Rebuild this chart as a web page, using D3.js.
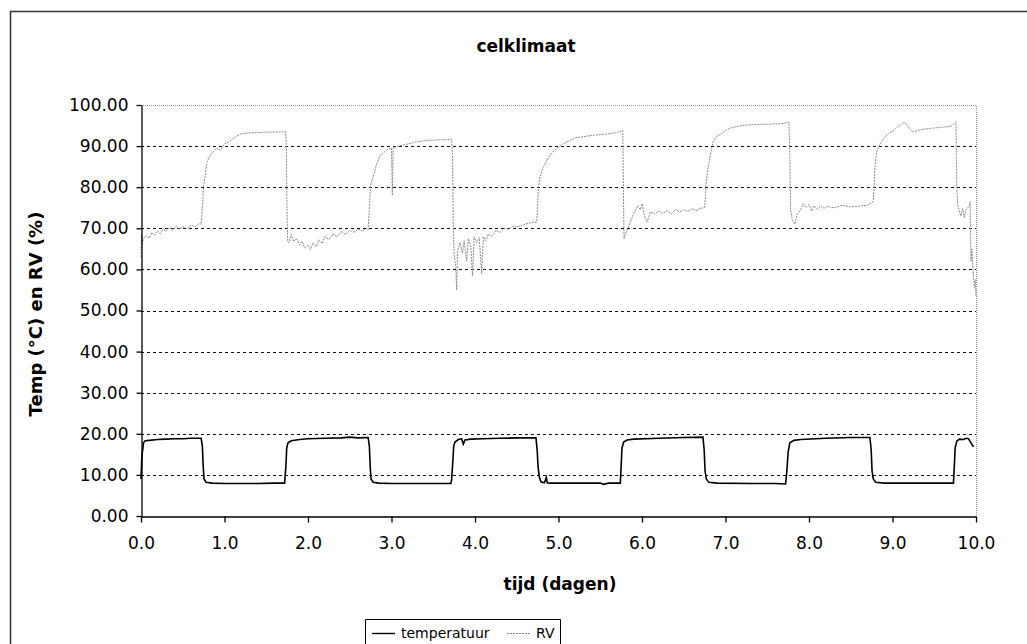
<!DOCTYPE html>
<html>
<head>
<meta charset="utf-8">
<script src="https://cdn.jsdelivr.net/npm/d3@7/dist/d3.min.js"></script>
<style>
  body { margin: 0; background: #fff; overflow: hidden; }
  svg { display: block; }
</style>
</head>
<body>
<svg id="svgx" width="1027" height="644" viewBox="0 0 1027 644"></svg>
<script>
// ****************************** data (tijd in dagen, waarde)
const chartTitle = "celklimaat";
const xTitle = "tijd (dagen)";
const yTitle = "Temp (°C) en RV (%)";
const seriesNames = ["temperatuur", "RV"];
const xTicks = [0, 1, 2, 3, 4, 5, 6, 7, 8, 9, 10];
const yTicks = [0, 10, 20, 30, 40, 50, 60, 70, 80, 90, 100];

const tempDays = [0.00,0.01,0.02,0.03,0.05,0.10,0.20,0.30,0.40,0.50,0.60,0.72,0.735,0.745,0.755,0.78,0.85,1.00,1.20,1.40,1.60,1.72,1.735,1.745,1.76,1.80,1.90,2.00,2.20,2.40,2.50,2.60,2.72,2.735,2.745,2.755,2.78,2.85,3.00,3.30,3.60,3.71,3.72,3.735,3.745,3.76,3.80,3.84,3.86,3.88,3.95,4.10,4.30,4.50,4.73,4.745,4.755,4.77,4.79,4.83,4.855,4.865,4.90,5.20,5.50,5.54,5.60,5.74,5.75,5.76,5.78,5.82,5.90,6.20,6.50,6.73,6.745,6.755,6.77,6.80,6.90,7.30,7.60,7.72,7.735,7.75,7.77,7.82,7.90,8.20,8.50,8.73,8.745,8.755,8.77,8.80,8.90,9.30,9.60,9.73,9.74,9.75,9.77,9.80,9.85,9.88,9.91,9.94,9.97];
const tempValues = [9.0,14.5,16.0,17.8,18.3,18.4,18.6,18.7,18.8,18.8,18.9,18.9,17.0,12.0,9.0,8.2,8.0,7.9,7.9,7.9,8.0,8.0,12.0,16.5,17.8,18.3,18.6,18.8,18.9,19.0,19.2,19.0,19.1,17.0,12.0,9.0,8.2,8.0,7.9,7.9,7.9,7.9,8.8,13.5,17.0,18.0,18.6,18.8,17.5,18.5,18.7,18.8,18.9,19.0,19.0,16.0,12.0,9.5,8.3,8.1,9.4,8.1,8.0,8.0,8.0,7.7,8.0,8.0,12.0,16.5,18.0,18.5,18.7,18.9,19.1,19.2,16.0,11.0,9.0,8.2,8.0,7.9,7.9,7.8,11.0,15.5,17.8,18.4,18.6,18.9,19.1,19.1,16.0,11.0,9.0,8.2,8.0,8.0,8.0,8.0,12.0,16.5,18.2,18.7,18.6,18.9,18.8,17.8,16.8];

const rvDays = [0.00,0.005,0.01,0.03,0.06,0.10,0.13,0.16,0.20,0.23,0.27,0.30,0.34,0.38,0.42,0.46,0.50,0.55,0.60,0.65,0.70,0.72,0.73,0.74,0.75,0.77,0.79,0.82,0.86,0.90,0.95,1.00,1.05,1.10,1.15,1.20,1.30,1.40,1.50,1.60,1.73,1.74,1.745,1.75,1.755,1.77,1.80,1.83,1.86,1.90,1.93,1.96,2.00,2.03,2.06,2.10,2.13,2.17,2.20,2.25,2.30,2.35,2.40,2.45,2.50,2.55,2.60,2.65,2.70,2.72,2.73,2.74,2.75,2.78,2.82,2.86,2.90,2.95,3.00,3.01,3.02,3.08,3.15,3.25,3.35,3.45,3.55,3.65,3.72,3.73,3.735,3.74,3.75,3.76,3.77,3.78,3.79,3.82,3.85,3.87,3.90,3.92,3.95,3.97,3.99,4.02,4.05,4.08,4.10,4.13,4.16,4.20,4.25,4.30,4.35,4.40,4.45,4.50,4.60,4.70,4.74,4.75,4.76,4.78,4.82,4.86,4.90,4.95,5.00,5.05,5.10,5.20,5.30,5.40,5.50,5.60,5.70,5.77,5.775,5.78,5.785,5.80,5.83,5.86,5.90,5.95,5.98,6.00,6.03,6.06,6.10,6.15,6.20,6.25,6.30,6.35,6.40,6.45,6.50,6.55,6.60,6.65,6.70,6.75,6.76,6.77,6.79,6.82,6.85,6.90,6.95,7.00,7.05,7.10,7.20,7.30,7.40,7.50,7.60,7.70,7.76,7.77,7.775,7.78,7.80,7.83,7.86,7.90,7.93,7.96,8.00,8.03,8.06,8.10,8.14,8.18,8.22,8.30,8.40,8.50,8.60,8.70,8.77,8.78,8.79,8.81,8.85,8.90,8.95,9.00,9.05,9.10,9.14,9.18,9.22,9.26,9.30,9.35,9.40,9.50,9.60,9.70,9.76,9.765,9.77,9.78,9.80,9.82,9.84,9.86,9.88,9.90,9.92,9.93,9.935,9.94,9.95,9.97,9.98,9.99,10.00];
const rvValues = [63.0,68.5,66.0,67.5,68.2,67.6,69.0,68.3,69.4,68.6,70.0,69.2,70.3,69.5,70.6,69.8,70.4,69.9,70.8,70.4,71.2,71.0,73.5,76.5,80.5,83.0,86.0,87.5,88.5,89.5,89.0,90.5,91.0,91.8,92.5,93.0,93.2,93.3,93.4,93.4,93.5,90.5,80.0,73.0,67.0,66.5,68.5,66.8,67.5,66.0,66.8,65.2,66.0,64.8,66.5,65.5,67.2,66.3,68.0,67.3,68.6,68.0,69.2,68.5,69.5,69.0,69.8,69.3,70.0,69.6,73.0,77.0,80.5,82.5,85.5,87.5,88.3,89.2,89.5,78.0,89.6,90.0,90.3,90.8,91.2,91.4,91.5,91.6,91.7,88.0,80.0,70.0,63.5,62.0,60.5,55.0,64.5,66.5,64.0,67.0,62.0,67.5,65.5,58.5,68.0,66.5,67.8,59.0,68.0,67.0,68.6,68.0,69.5,69.0,70.0,69.8,70.5,70.3,71.0,71.5,71.5,76.0,80.0,82.5,85.0,86.5,87.8,89.0,89.8,90.5,91.0,92.0,92.3,92.6,92.8,93.0,93.3,93.8,85.0,75.0,67.5,68.5,70.0,71.5,73.5,75.5,74.5,76.0,73.0,71.5,74.0,73.5,74.2,73.6,74.3,73.5,74.6,74.0,74.5,74.1,74.8,74.3,74.9,75.0,78.0,81.5,84.5,88.0,91.0,92.5,93.0,93.8,94.3,94.6,95.0,95.2,95.3,95.3,95.4,95.5,95.8,88.0,80.0,74.5,72.0,71.0,73.5,74.5,76.0,75.0,75.8,74.2,75.5,74.6,75.4,74.9,75.3,75.0,75.6,75.2,75.4,75.6,76.5,80.0,85.0,88.5,90.5,92.0,93.0,93.6,94.5,95.3,95.8,95.0,93.8,93.4,93.8,94.0,94.2,94.4,94.6,94.8,95.9,88.0,80.0,76.0,74.2,73.0,74.8,72.6,74.5,75.0,75.5,76.5,68.0,62.0,65.0,58.0,55.5,57.5,53.5];

const temperatuur = tempDays.map((t, i) => ({ tijd: t, waarde: tempValues[i] }));
const rv = rvDays.map((t, i) => ({ tijd: t, waarde: rvValues[i] }));

// ****************************** dimensions
var margin = { top: 105, right: 51, bottom: 128, left: 141 };
var widthA = 1027;
var heightA = 644;
const innerWidth = widthA - margin.left - margin.right;
const innerHeight = heightA - margin.top - margin.bottom;
const fontFam = "DejaVu Sans, Verdana, sans-serif";

var svg = d3.select('#svgx');

// outer chart border: only top and left edge are visible in the picture
svg.append("path")
  .attr("d", "M10.5,644V11.5H1027")
  .attr("fill", "none")
  .attr("stroke", "#333")
  .attr("stroke-width", 1.5);

var svg1 = svg.append('g')
  .attr('class', 'svg1')
  .attr('transform', `translate(${margin.left},${margin.top})`);

// ****************************** scales
var xScale = d3.scaleLinear().domain([0, 10]).range([0, innerWidth]);
var yScale = d3.scaleLinear().domain([0, 100]).range([innerHeight, 0]);

// ****************************** grid lines
svg1.selectAll(".grid").data(yTicks.filter(d => d > 0 && d < 100))
  .enter().append("line")
  .attr("class", "grid")
  .attr("x1", 0).attr("x2", innerWidth)
  .attr("y1", d => Math.round(yScale(d)) + 0.5)
  .attr("y2", d => Math.round(yScale(d)) + 0.5)
  .attr("stroke", "#111")
  .attr("stroke-width", 1)
  .attr("stroke-dasharray", "3,3");

// plot area border top + right (fine grey dots)
svg1.append("path")
  .attr("d", `M0,${yScale(100) + 0.5}H${xScale(10) + 0.5}V${innerHeight}`)
  .attr("fill", "none")
  .attr("stroke", "#999")
  .attr("stroke-width", 1)
  .attr("stroke-dasharray", "1,1");

// ****************************** lines
const line = d3.line()
  .x(d => xScale(d.tijd))
  .y(d => yScale(d.waarde));

svg1.append("path")
  .datum(rv)
  .attr("d", line)
  .attr("fill", "none")
  .attr("stroke", "#8c8c8c")
  .attr("stroke-width", 1)
  .attr("stroke-dasharray", "2,1");

svg1.append("path")
  .datum(temperatuur)
  .attr("d", line)
  .attr("fill", "none")
  .attr("stroke", "#000")
  .attr("stroke-width", 1.6);

// ****************************** axes
const yAxisG = svg1.append("g")
  .attr("class", "axis")
  .attr("transform", "translate(0.5,0)")
  .call(d3.axisLeft(yScale).tickValues(yTicks).tickFormat(d3.format(".2f"))
    .tickSize(5).tickSizeOuter(0).tickPadding(8));

const xAxisG = svg1.append("g")
  .attr("class", "axis")
  .attr("transform", `translate(0,${innerHeight + 0.5})`)
  .call(d3.axisBottom(xScale).tickValues(xTicks).tickFormat(d3.format(".1f"))
    .tickSize(6).tickSizeOuter(0).tickPadding(14));

svg1.selectAll(".axis")
  .attr("font-family", fontFam)
  .attr("font-size", 17);
svg1.selectAll(".axis path, .axis line")
  .attr("stroke", "#000")
  .attr("stroke-width", 1.3);
svg1.selectAll(".axis text")
  .attr("fill", "#000");

// ****************************** titles
svg.append("text")
  .attr("x", 526).attr("y", 52)
  .attr("text-anchor", "middle")
  .attr("font-family", fontFam)
  .attr("font-weight", 700)
  .attr("font-size", 17)
  .text(chartTitle);

svg.append("text")
  .attr("x", 560).attr("y", 590)
  .attr("text-anchor", "middle")
  .attr("font-family", fontFam)
  .attr("font-weight", 700)
  .attr("font-size", 17)
  .text(xTitle);

svg.append("text")
  .attr("transform", "translate(42,314) rotate(-90)")
  .attr("text-anchor", "middle")
  .attr("font-family", fontFam)
  .attr("font-weight", 700)
  .attr("font-size", 18)
  .text(yTitle);

// ****************************** legend (box runs past the bottom edge)
var legend = svg.append("g").attr("class", "legend");
legend.append("path")
  .attr("d", "M365.5,644V619.5H560.5V644")
  .attr("fill", "#fff")
  .attr("stroke", "#000");

const legendItems = [
  { name: seriesNames[0], x: 372, color: "#000", dash: null, w: 1.4 },
  { name: seriesNames[1], x: 507, color: "#8c8c8c", dash: "2,1", w: 1 }
];
legend.selectAll(".item").data(legendItems).enter()
  .append("g").attr("class", "item")
  .each(function (d) {
    const g = d3.select(this);
    g.append("line")
      .attr("x1", d.x).attr("x2", d.x + 23)
      .attr("y1", 633.5).attr("y2", 633.5)
      .attr("stroke", d.color)
      .attr("stroke-width", d.w)
      .attr("stroke-dasharray", d.dash);
    g.append("text")
      .attr("x", d.x + 29).attr("y", 638)
      .attr("font-family", fontFam)
      .attr("font-size", 14)
      .text(d.name);
  });
</script>
</body>
</html>
